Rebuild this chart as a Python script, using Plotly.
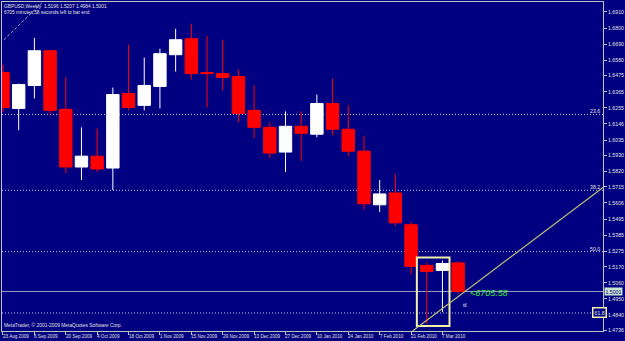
import plotly.graph_objects as go
import pandas as pd

# ---- data ----
weeks = ["2009-08-23", "2009-08-30", "2009-09-06", "2009-09-13", "2009-09-20",
         "2009-09-27", "2009-10-04", "2009-10-11", "2009-10-18", "2009-10-25",
         "2009-11-01", "2009-11-08", "2009-11-15", "2009-11-22", "2009-11-29",
         "2009-12-06", "2009-12-13", "2009-12-20", "2009-12-27", "2010-01-03",
         "2010-01-10", "2010-01-17", "2010-01-24", "2010-01-31", "2010-02-07",
         "2010-02-14", "2010-02-21", "2010-02-28", "2010-03-07", "2010-03-14"]
opens = [1.6496, 1.6251, 1.6408, 1.6645, 1.6245, 1.5851, 1.5925, 1.5844, 1.6353, 1.6272,
         1.6401, 1.6618, 1.6727, 1.6496, 1.6489, 1.6469, 1.6238, 1.6122, 1.5953, 1.6129,
         1.6075, 1.6285, 1.6109, 1.5959, 1.5593, 1.5674, 1.5457, 1.5179, 1.5145, 1.5196]
highs = [1.6550, 1.6421, 1.6733, 1.6652, 1.6462, 1.6122, 1.6115, 1.6394, 1.6686, 1.6598,
         1.6659, 1.6795, 1.6829, 1.6747, 1.6720, 1.6516, 1.6408, 1.6156, 1.6231, 1.6231,
         1.6346, 1.6455, 1.6272, 1.6061, 1.5762, 1.5803, 1.5477, 1.5199, 1.5212, 1.5207]
lows = [1.6224, 1.6102, 1.6319, 1.6204, 1.5810, 1.5762, 1.5817, 1.5694, 1.6238, 1.6238,
        1.6251, 1.6503, 1.6448, 1.6258, 1.6374, 1.6156, 1.6048, 1.5912, 1.5817, 1.5892,
        1.6054, 1.6068, 1.5925, 1.5559, 1.5545, 1.5450, 1.5118, 1.4778, 1.4860, 1.4984]
closes = [1.6258, 1.6414, 1.6645, 1.6238, 1.5851, 1.5925, 1.5837, 1.6346, 1.6258, 1.6408,
          1.6625, 1.6720, 1.6489, 1.6489, 1.6462, 1.6217, 1.6122, 1.5946, 1.6129, 1.6081,
          1.6285, 1.6109, 1.5959, 1.5600, 1.5667, 1.5470, 1.5172, 1.5138, 1.5192, 1.5001]

date_label_weeks = ["2009-08-23", "2009-09-06", "2009-09-20", "2009-10-04", "2009-10-18",
                    "2009-11-01", "2009-11-15", "2009-11-29", "2009-12-13", "2009-12-27",
                    "2010-01-10", "2010-01-24", "2010-02-07", "2010-02-21", "2010-03-07"]
date_labels = ["23 Aug 2009", "6 Sep 2009", "20 Sep 2009", "4 Oct 2009", "18 Oct 2009",
               "1 Nov 2009", "15 Nov 2009", "29 Nov 2009", "13 Dec 2009", "27 Dec 2009",
               "10 Jan 2010", "24 Jan 2010", "7 Feb 2010", "21 Feb 2010", "7 Mar 2010"]

price_ticks = [1.6910, 1.6800, 1.6690, 1.6580, 1.6475, 1.6365, 1.6255, 1.6146, 1.6035,
               1.5930, 1.5820, 1.5715, 1.5606, 1.5495, 1.5385, 1.5275, 1.5170, 1.5060,
               1.4950, 1.4840, 1.4736]
price_tick_text = ["%.4f" % v for v in price_ticks]

fib_levels = [1.6210, 1.5692, 1.5273, 1.4854]
fib_labels = ["23.6", "38.2", "50.0", "61.8"]

header1 = "GBPUSD,Weekly  1.5196 1.5207 1.4984 1.5001"
header2 = "6705 minutes,58 seconds left to bar end"
copyright_text = "MetaTrader, \u00a9 2001-2009 MetaQuotes Software Corp."
timer_text = "<6705:58"

# drawn objects (trendline and rectangle)
trend_start = (26.10, 1.4731)   # (week index, price)
trend_end = (38.23, 1.5711)
rect_x = (26.37, 28.45)         # week index
rect_y = (1.4765, 1.5233)

# ---- styling ----
NAVY = "#000080"
GRID = "#C0C0C0"
FONT = "Liberation Sans, Arial, sans-serif"

t0 = pd.Timestamp(weeks[0])


def wk(i):
    return t0 + pd.Timedelta(weeks=i)


fig = go.Figure()
fig.add_trace(go.Candlestick(
    x=weeks, open=opens, high=highs, low=lows, close=closes,
    increasing=dict(line=dict(color="#FFFFFF", width=1), fillcolor="#FFFFFF"),
    decreasing=dict(line=dict(color="#FF0000", width=1), fillcolor="#FF0000"),
    whiskerwidth=0, showlegend=False, hoverinfo="skip",
))

shapes = []
# fibonacci levels
for lv in fib_levels:
    shapes.append(dict(type="line", xref="paper", x0=0, x1=1, yref="y", y0=lv, y1=lv,
                       line=dict(color="#C8C8E0", width=1, dash="1px,2px"), layer="below"))
# bid line
shapes.append(dict(type="line", xref="paper", x0=0, x1=1, yref="y", y0=closes[-1], y1=closes[-1],
                   line=dict(color="#9A9AC8", width=1), layer="below"))
# yellow rectangle
shapes.append(dict(type="rect", xref="x", yref="y", x0=wk(rect_x[0]), x1=wk(rect_x[1]),
                   y0=rect_y[0], y1=rect_y[1], line=dict(color="#F0F0A8", width=2)))
# yellow trendline
shapes.append(dict(type="line", xref="x", yref="y", x0=wk(trend_start[0]), y0=trend_start[1],
                   x1=wk(trend_end[0]), y1=trend_end[1], line=dict(color="#BEBE78", width=1.2)))
# top-left dashed trendline
shapes.append(dict(type="line", xref="paper", yref="paper", x0=0.003, y0=0.885, x1=0.066, y1=0.997,
                   line=dict(color="#A8A8B8", width=1, dash="3px,2px")))

ann = []
ann.append(dict(text=header1, xref="paper", yref="paper", x=0, y=1, xanchor="left", yanchor="top",
                xshift=0, yshift=0, showarrow=False, font=dict(size=4.8, color="#E0E0E0", family=FONT)))
ann.append(dict(text=header2, xref="paper", yref="paper", x=0, y=1, xanchor="left", yanchor="top",
                xshift=0, yshift=-5.5, showarrow=False, font=dict(size=4.8, color="#E0E0E0", family=FONT)))
ann.append(dict(text=copyright_text, xref="paper", yref="paper", x=0, y=0, xanchor="left",
                yanchor="bottom", xshift=0, yshift=1, showarrow=False,
                font=dict(size=4.9, color="#E0E0E0", family=FONT)))
for d, lab in zip(date_label_weeks, date_labels):
    ann.append(dict(text=lab, xref="x", yref="paper", x=d, y=0, xanchor="left", yanchor="top",
                    xshift=-2, yshift=-1, showarrow=False,
                    font=dict(size=4.6, color="#E0E0E0", family=FONT)))
for lv, lab in zip(fib_levels, fib_labels):
    if lab == "61.8":
        ann.append(dict(text=lab, xref="paper", yref="y", x=1, y=lv, xanchor="center",
                        yanchor="middle", xshift=-4, showarrow=False, bgcolor=NAVY,
                        bordercolor="#F0F0A8", borderwidth=1.5, borderpad=1,
                        font=dict(size=5.2, color="#E0E0E0", family=FONT)))
    else:
        ann.append(dict(text=lab, xref="paper", yref="y", x=1, y=lv, xanchor="right",
                        yanchor="bottom", xshift=-1, yshift=-2, showarrow=False,
                        font=dict(size=5.2, color="#E0E0E0", family=FONT)))
# current price label on the axis
ann.append(dict(text="%.4f" % closes[-1], xref="paper", yref="y", x=1, y=closes[-1],
                xanchor="left", yanchor="middle", xshift=1, showarrow=False,
                bgcolor="#C8E4D0", borderpad=0.5,
                font=dict(size=5.2, color=NAVY, family=FONT)))
# timer text
ann.append(dict(text=timer_text, xref="x", yref="y", x=wk(29.6), y=closes[-1], xanchor="left",
                yanchor="middle", yshift=-2, showarrow=False,
                font=dict(size=9, color="#33EE33", family=FONT, style="italic")))
ann.append(dict(text="ttl", xref="x", yref="y", x=wk(29.2), y=1.4905, xanchor="left",
                yanchor="middle", showarrow=False,
                font=dict(size=4.5, color="#FFFFFF", family=FONT)))

fig.update_layout(
    width=625, height=341,
    margin=dict(l=1, r=18, t=1, b=10, pad=0),
    paper_bgcolor=NAVY, plot_bgcolor=NAVY,
    boxgap=0.21, boxgroupgap=0,
    shapes=shapes, annotations=ann,
    xaxis=dict(type="date", range=[t0 - pd.Timedelta(days=0.44), wk(38.23)],
               rangeslider=dict(visible=False), showgrid=False, zeroline=False,
               showline=True, linecolor=GRID, linewidth=1, mirror=True,
               tickvals=date_label_weeks, ticks="outside", ticklen=3, tickcolor=GRID,
               showticklabels=False),
    yaxis=dict(side="right", range=[1.4731, 1.6978], showgrid=False, zeroline=False,
               showline=True, linecolor=GRID, linewidth=1, mirror=True,
               tickvals=price_ticks, ticktext=price_tick_text, ticks="outside", ticklen=3,
               tickcolor=GRID, tickfont=dict(size=5.2, color="#E0E0E0", family=FONT)),
    hovermode=False,
)

fig.write_html("out.html")
